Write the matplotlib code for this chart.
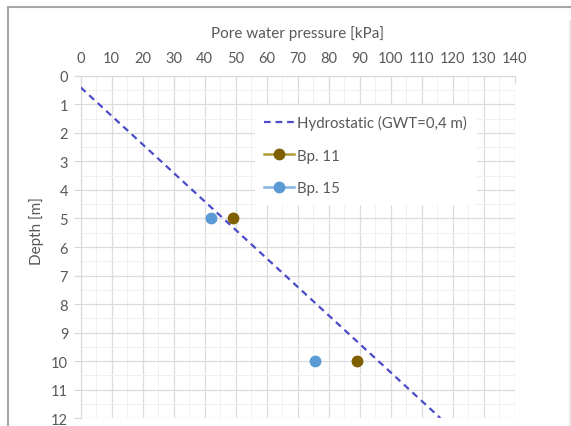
import matplotlib.pyplot as plt
from matplotlib.lines import Line2D
from matplotlib.patches import Rectangle
from matplotlib.ticker import MultipleLocator

plt.rcParams['font.family'] = ['Lato', 'DejaVu Sans']

# hydrostatic line, GWT at 0.4 m, 10 kPa per m
hydro_depth = [0.4, 12.0]
hydro_u = [0.0, 116.0]

bp11_depth = [5, 10]
bp11_u = [49, 89]
bp15_depth = [5, 10]
bp15_u = [42, 75.5]

text_col = "#595959"
grid_col = "#d9d9d9"

fig = plt.figure(figsize=[5.71, 4.27], dpi=100)
fig.patches.append(Rectangle((8 / 571, -0.05), 1.2, 1 - 8 / 427 + 0.05,
                             transform=fig.transFigure, fill=False,
                             edgecolor="#a6a6a6", linewidth=1.5))
fig.patches.append(Rectangle((569 / 571, -0.05), 0.001, 1.0,
                             transform=fig.transFigure, fill=False,
                             edgecolor="#e8e8e8", linewidth=0.8))

ax = fig.add_axes([0.1413, 0.0187, 0.7601, 0.801])

ax.plot(hydro_u, hydro_depth, linestyle=(0, (3, 2.2)), color="#4b4bc8",
        linewidth=1.6, zorder=3)
ax.plot(bp11_u, bp11_depth, "o", color="#7f6000", markersize=7.5,
        linestyle="none", zorder=4)
ax.plot(bp15_u, bp15_depth, "o", color="#5b9bd5", markersize=7.5,
        linestyle="none", zorder=4)

ax.set_xlim(0, 140)
ax.set_ylim(12, 0)
ax.xaxis.set_major_locator(MultipleLocator(10))
ax.xaxis.set_minor_locator(MultipleLocator(5))
ax.yaxis.set_major_locator(MultipleLocator(1))
ax.yaxis.set_minor_locator(MultipleLocator(0.5))
ax.grid(which="major", color="#dcdcdc", linewidth=0.9)
ax.grid(which="minor", color="#f0f0f0", linewidth=0.7)
ax.set_axisbelow(True)

ax.xaxis.tick_top()
ax.xaxis.set_label_position("top")
for side in ["bottom", "right"]:
    ax.spines[side].set_visible(False)
for side in ["top", "left"]:
    ax.spines[side].set_color(grid_col)
ax.tick_params(which="major", colors=text_col, labelsize=10.5, length=5,
               color=grid_col)
ax.tick_params(which="minor", length=0)
ax.tick_params(axis="x", direction="in", pad=8)
ax.tick_params(axis="y", direction="out", pad=4)

ax.set_xlabel("Pore water pressure [kPa]", color=text_col, fontsize=11,
              labelpad=10)
ax.set_ylabel("Depth [m]", color=text_col, fontsize=11)
ax.yaxis.set_label_coords(-0.085, 0.55)

handles = [
    Line2D([], [], linestyle=(0, (3, 2.2)), color="#4b4bc8", linewidth=1.6),
    Line2D([], [], color="#b09a3a", linewidth=1.8, marker="o",
           markersize=7.5, markerfacecolor="#7f6000", markeredgecolor="#7f6000"),
    Line2D([], [], color="#82b4e4", linewidth=1.8, marker="o",
           markersize=7.5, markerfacecolor="#5b9bd5", markeredgecolor="#5b9bd5"),
]
labels = ["Hydrostatic (GWT=0,4 m)", "Bp. 11", "Bp. 15"]
leg = ax.legend(handles, labels, loc="upper left",
                bbox_to_anchor=(0.385, 0.935), frameon=True, framealpha=1,
                edgecolor="white", fontsize=10.8, handlelength=2.0,
                handletextpad=0.2, labelspacing=1.25, borderpad=0.6)
for t in leg.get_texts():
    t.set_color(text_col)

fig.savefig("out.png", dpi=100)
